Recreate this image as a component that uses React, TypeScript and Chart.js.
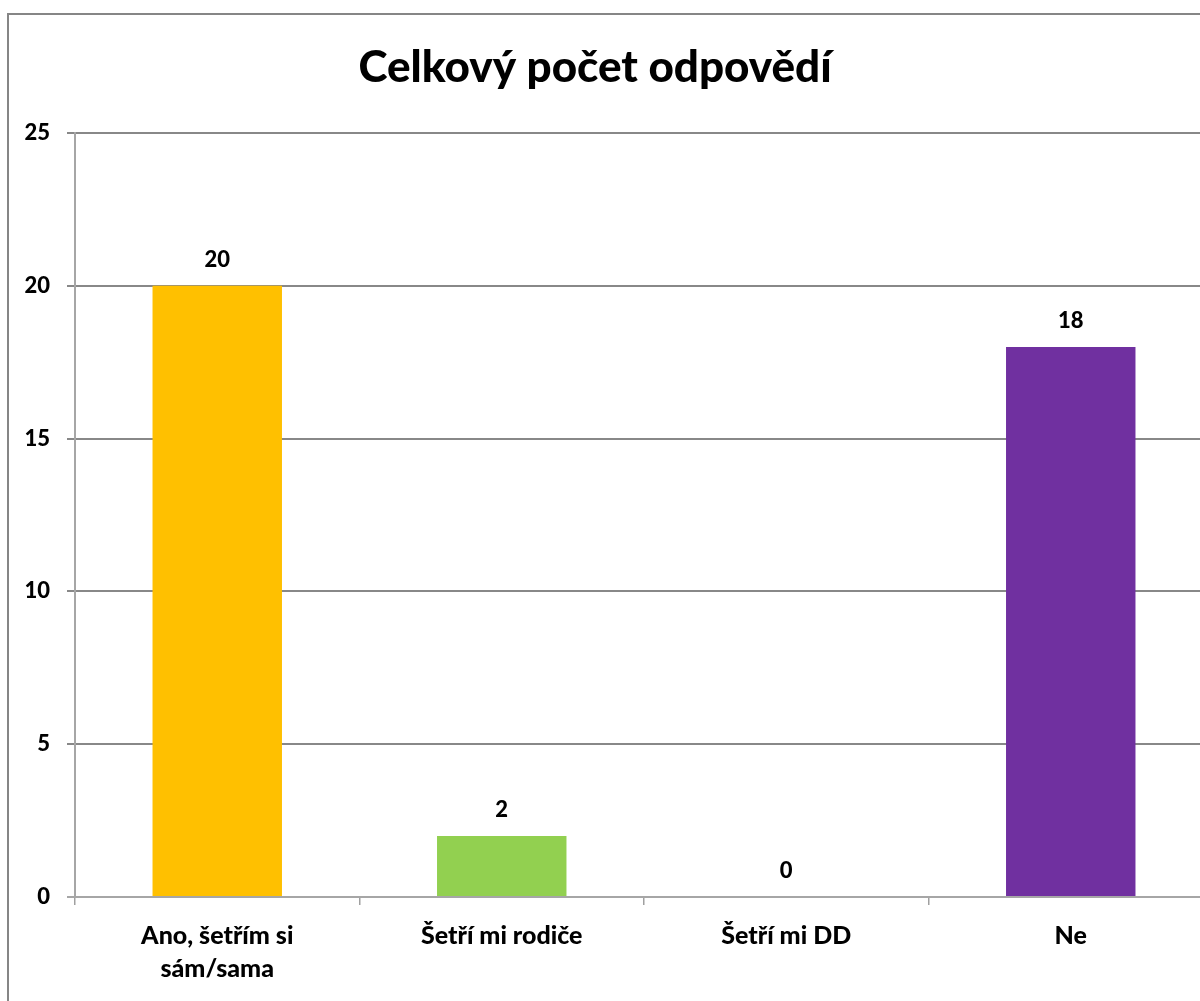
import React, { useEffect, useRef } from "react";
import { Chart, registerables } from "chart.js";

Chart.register(...registerables);

const TITLE = "Celkový počet odpovědí";
const CATEGORIES: (string | string[])[] = [
  ["Ano, šetřím si", "sám/sama"],
  "Šetří mi rodiče",
  "Šetří mi DD",
  "Ne",
];
const VALUES = [20, 2, 0, 18];
const COLORS = ["#FFC000", "#92D050", "#92D050", "#7030A0"];
const Y_MIN = 0;
const Y_MAX = 25;
const Y_STEP = 5;

const FONT = "Lato, 'Open Sans', sans-serif";

export default function App() {
  const ref = useRef<HTMLCanvasElement | null>(null);

  useEffect(() => {
    if (!ref.current) return;

    const framePlugin = {
      id: "frame",
      beforeDraw(chart: any) {
        const ctx = chart.ctx;
        ctx.save();
        ctx.fillStyle = "#ffffff";
        ctx.fillRect(0, 0, chart.width, chart.height);
        ctx.strokeStyle = "#868686";
        ctx.lineWidth = 2;
        ctx.strokeRect(8, 14, chart.width + 50, chart.height + 50);
        ctx.restore();
      },
      afterDraw(chart: any) {
        const ctx = chart.ctx;
        ctx.save();
        ctx.fillStyle = "#000000";
        ctx.font = `900 44px ${FONT}`;
        ctx.textAlign = "center";
        ctx.textBaseline = "alphabetic";
        ctx.fillText(TITLE, 595, 82);
        ctx.restore();
      },
    };

    const labelPlugin = {
      id: "valueLabels",
      afterDatasetsDraw(chart: any) {
        const ctx = chart.ctx;
        const meta = chart.getDatasetMeta(0);
        ctx.save();
        ctx.fillStyle = "#000000";
        ctx.font = `900 22px ${FONT}`;
        ctx.textAlign = "center";
        ctx.textBaseline = "alphabetic";
        meta.data.forEach((bar: any, i: number) => {
          ctx.fillText(String(VALUES[i]), bar.x, bar.y - 19);
        });
        ctx.restore();
      },
    };

    const chart = new Chart(ref.current, {
      type: "bar",
      data: {
        labels: CATEGORIES,
        datasets: [
          {
            data: VALUES,
            backgroundColor: COLORS,
            borderWidth: 0,
            categoryPercentage: 1,
            barPercentage: 0.455,
          },
        ],
      },
      options: {
        responsive: false,
        animation: false,
        devicePixelRatio: 1,
        layout: { padding: { top: 133, right: 17, left: 0, bottom: 0 } },
        plugins: {
          legend: { display: false },
          tooltip: { enabled: false },
          title: { display: false },
        },
        scales: {
          x: {
            grid: {
              display: true,
              drawOnChartArea: false,
              drawTicks: true,
              tickLength: 8,
              color: "#a0a0a0",
              lineWidth: 1.5,
              offset: true,
            },
            border: { display: true, color: "#a6a6a6", width: 2 },
            ticks: {
              color: "#000000",
              font: { family: FONT, size: 25, weight: "900", lineHeight: 1.32 },
              padding: 14,
              maxRotation: 0,
              autoSkip: false,
            },
            afterFit(scale: any) {
              scale.height = 104;
            },
          },
          y: {
            min: Y_MIN,
            max: Y_MAX,
            grid: {
              color: (c: any) => (c.tick && c.tick.value === 0 ? "#a6a6a6" : "#888888"),
              lineWidth: 2,
              tickLength: 8,
              drawTicks: true,
            },
            border: { display: true, color: "#a6a6a6", width: 2 },
            ticks: {
              stepSize: Y_STEP,
              color: "#000000",
              font: { family: FONT, size: 22, weight: "900" },
              padding: 17,
            },
            afterFit(scale: any) {
              scale.width = 75;
            },
          },
        },
      },
      plugins: [framePlugin, labelPlugin],
    });

    return () => chart.destroy();
  }, []);

  return (
    <div
      style={{
        position: "fixed",
        left: 0,
        top: 0,
        width: 1200,
        height: 1001,
        overflow: "hidden",
        background: "#ffffff",
      }}
    >
      <canvas
        ref={ref}
        width={1230}
        height={1001}
        style={{ display: "block", width: 1230, height: 1001 }}
      />
    </div>
  );
}
